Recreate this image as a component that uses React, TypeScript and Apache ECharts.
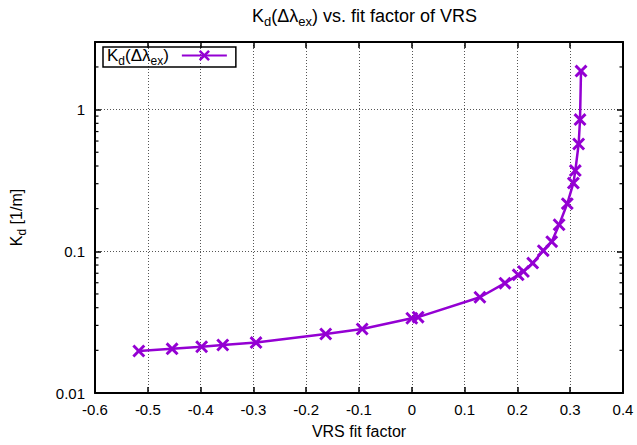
import React, { useEffect, useRef } from 'react';
import * as echarts from 'echarts';

// VRS fit factor (x) and Kd(Δλex) values (y, 1/m)
const fitFactor = [-0.517, -0.454, -0.398, -0.358, -0.295, -0.163, -0.094, 0.0, 0.012, 0.129, 0.1765, 0.2015, 0.2115, 0.229, 0.249, 0.265, 0.279, 0.2945, 0.306, 0.3097, 0.316, 0.3186, 0.3205];
const kdValues = [0.0198, 0.0205, 0.0212, 0.0218, 0.0227, 0.0261, 0.0283, 0.0337, 0.0343, 0.0474, 0.0596, 0.0682, 0.072, 0.0826, 0.101, 0.117, 0.154, 0.217, 0.303, 0.371, 0.572, 0.85, 1.87];

const xMin = -0.6;
const xMax = 0.4;
const xInterval = 0.1;
const yMin = 0.01;
const yMax = 3;
const yMinorTicks = [0.02, 0.03, 0.04, 0.05, 0.06, 0.07, 0.08, 0.09, 0.2, 0.3, 0.4, 0.5, 0.6, 0.7, 0.8, 0.9, 2];

const FONT = '"Liberation Sans", Arial, Helvetica, sans-serif';
const COLOR = '#9400D3';
const XMARK = 'path://M0,16L16,0L50,34L84,0L100,16L66,50L100,84L84,100L50,66L16,100L0,84L34,50Z';

const mkRich = (n: number, s: number, lh: number) => ({
  n: { fontFamily: FONT, fontSize: n, fontWeight: 'normal' as const, color: '#000', lineHeight: lh },
  s: { fontFamily: FONT, fontSize: s, fontWeight: 'normal' as const, color: '#000', lineHeight: lh, verticalAlign: 'bottom' as const },
});

export default function App() {
  const ref = useRef<HTMLDivElement>(null);
  useEffect(() => {
    if (!ref.current) return;
    const chart = echarts.init(ref.current, undefined, { renderer: 'svg' });
    const axisLine = { show: true, onZero: false, lineStyle: { color: '#000', width: 2 } };
    const tick = { show: true, inside: true, length: 6, lineStyle: { color: '#000', width: 1.5 } };
    const split = { show: true, lineStyle: { color: '#555', type: [1, 2] as any, width: 1 } };
    const fmtX = (v: number) => String(Math.round(v * 10) / 10);
    const fmtY = (v: number) => {
      const l = Math.log10(v);
      if (Math.abs(l - Math.round(l)) > 1e-6) return '';
      return String(Math.pow(10, Math.round(l)));
    };
    chart.setOption({
      animation: false,
      backgroundColor: '#fff',
      title: {
        text: '{n|K}{s|d}{n|(Δλ}{s|ex}{n|) vs. fit factor of VRS}',
        left: 247,
        top: -2,
        textStyle: { fontWeight: 'normal', rich: mkRich(18, 13, 25) },
      },
      legend: {
        data: ['Kd'],
        left: 103,
        top: 47,
        orient: 'horizontal',
        align: 'right',
        padding: [0, 8, 0, 4],
        itemWidth: 45,
        itemHeight: 14,
        borderColor: '#000',
        borderWidth: 1.5,
        borderRadius: 0,
        formatter: () => '{n|K}{s|d}{n|(Δλ}{s|ex}{n|)}',
        textStyle: { rich: mkRich(17, 12, 23), padding: [0, 8, 0, 0] },
      },
      grid: { left: 95, right: 14, top: 42, bottom: 52, containLabel: false },
      xAxis: [
        {
          type: 'value', min: xMin, max: xMax, interval: xInterval, position: 'bottom',
          axisLine, axisTick: tick, splitLine: split,
          axisLabel: { formatter: fmtX, color: '#000', fontSize: 15, fontFamily: FONT, margin: 9 },
          name: 'VRS fit factor', nameLocation: 'middle', nameGap: 30,
          nameTextStyle: { color: '#000', fontSize: 16, fontFamily: FONT },
        },
        {
          type: 'value', min: xMin, max: xMax, interval: xInterval, position: 'top',
          axisLine, axisTick: tick, splitLine: { show: false }, axisLabel: { show: false },
        },
      ],
      yAxis: [
        {
          type: 'log', logBase: 10, min: yMin, max: yMax, position: 'left',
          axisLine, axisTick: tick, splitLine: split,
          axisLabel: { formatter: fmtY, color: '#000', fontSize: 15, fontFamily: FONT, margin: 10 },
          name: '{n|K}{s|d}{n| [1/m]}', nameLocation: 'middle', nameGap: 67, nameRotate: 90,
          nameTextStyle: { rich: mkRich(16, 12, 23), padding: [0, 0, 0, 0] },
        },
        {
          type: 'log', logBase: 10, min: yMin, max: yMax, position: 'right',
          axisLine, axisTick: tick, splitLine: { show: false }, axisLabel: { show: false },
        },
      ],
      series: [
        {
          name: 'Kd',
          type: 'line',
          xAxisIndex: 0,
          yAxisIndex: 0,
          data: fitFactor.map((x, i) => [x, kdValues[i]]),
          symbol: XMARK,
          symbolSize: 13,
          showAllSymbol: true,
          lineStyle: { color: COLOR, width: 2.5 },
          itemStyle: { color: COLOR },
          z: 3,
        },
        {
          name: 'minor',
          type: 'custom',
          xAxisIndex: 0,
          yAxisIndex: 0,
          silent: true,
          clip: false,
          z: 4,
          data: yMinorTicks.map((v) => [xMin, v]),
          renderItem: (_params: any, api: any) => {
            const v = api.value(1);
            const pl = api.coord([xMin, v]);
            const pr = api.coord([xMax, v]);
            const style = { stroke: '#000', lineWidth: 1.2 };
            return {
              type: 'group',
              children: [
                { type: 'line', shape: { x1: pl[0], y1: pl[1], x2: pl[0] + 3.5, y2: pl[1] }, style },
                { type: 'line', shape: { x1: pr[0] - 3.5, y1: pr[1], x2: pr[0], y2: pr[1] }, style },
              ],
            };
          },
        },
      ],
    });
    return () => chart.dispose();
  }, []);
  return <div ref={ref} style={{ position: 'fixed', left: 0, top: 0, width: 637, height: 445 }} />;
}
